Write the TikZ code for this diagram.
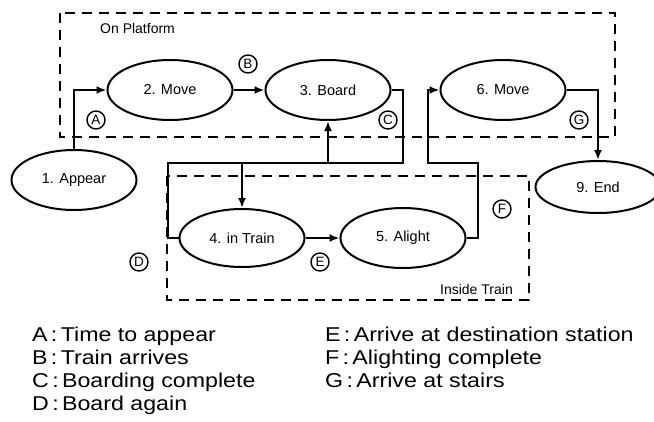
\documentclass[tikz,border=0pt]{standalone}
\usepackage{fontspec}
\setmainfont{Liberation Sans}
\newfontfamily\legendfont[FakeStretch=1.16]{Liberation Sans}
\usetikzlibrary{shapes.geometric,arrows.meta}

\begin{document}
\begin{tikzpicture}[x=1pt,y=-1pt,>={Latex[length=10pt,width=8pt]},
	state/.style={ellipse,draw,line width=2pt,minimum width=125pt,minimum height=60pt,inner sep=0pt,font=\fontsize{14.5}{17}\selectfont},
	lbl/.style={circle,draw,line width=1.4pt,minimum size=18pt,inner sep=0pt,font=\fontsize{13.5}{15}\selectfont},
	zone/.style={line width=2pt,dash pattern=on 10pt off 7pt},
	flow/.style={line width=2pt},
	key/.style={anchor=base west,inner sep=0pt,font=\legendfont\fontsize{20}{24}\selectfont}]
			\clip (0,0) rectangle (654,421);
			%\draw [help lines] (0,0) grid (654,421);
			\draw [zone] (60,13) rectangle (615,137);
			\draw [zone] (167,176) rectangle (529,300);
			\node [anchor=west,inner sep=0pt,font=\fontsize{14}{16}\selectfont] (plat) at (100,28) {On Platform};
			\node [anchor=east,inner sep=0pt,font=\fontsize{14}{16}\selectfont] (intr) at (513,289) {Inside Train};
			
			\node [state] (appear) at (74,180) {1. Appear};
			\node [state] (move1) at (170,90) {2. Move};
			\node [state] (board) at (328,90) {3. Board};
			\node [state,minimum height=58pt] (train) at (242,238) {4. in Train};
			\node [state] (alight) at (403,238) {5. Alight};
			\node [state] (move2) at (503,90) {6. Move};
			\node [state,minimum height=52pt] (end) at (598,187) {9. End};
			
			\coordinate (c1) at (403,163);
			\coordinate (c2) at (168,163);
			\coordinate (c3) at (478,163);
			\coordinate (c4) at (428,163);
			\draw [flow,->] (appear.north) |- (move1.west);
			\draw [flow,->] (move1.east) -- (board.west);
			\draw [flow] (board.east) -| (c1) -- (c2) |- (train.west);
			\draw [flow,->] (train.north |- c1) -- (train.north);
			\draw [flow,->] (board.south |- c1) -- (board.south);
			\draw [flow,->] (train.east) -- (alight.west);
			\draw [flow,->] (alight.east) -| (c3) -- (c4) |- (move2.west);
			\draw [flow,->] (move2.east) -| (end.north);
			
			\node [lbl] (ta) at (96,120) {A};
			\node [lbl] (tb) at (248,64) {B};
			\node [lbl] (tc) at (388,120) {C};
			\node [lbl] (td) at (139,262) {D};
			\node [lbl] (te) at (320,262) {E};
			\node [lbl] (tf) at (502,209) {F};
			\node [lbl] (tg) at (579,120) {G};
			
			\node [key] (ka) at (32,341) {A\,:\,Time to appear};
			\node [key] (kb) at (32,364) {B\,:\,Train arrives};
			\node [key] (kc) at (32,387) {C\,:\,Boarding complete};
			\node [key] (kd) at (32,410) {D\,:\,Board again};
			\node [key] (ke) at (325,341) {E\,:\,Arrive at destination station};
			\node [key] (kf) at (325,364) {F\,:\,Alighting complete};
			\node [key] (kg) at (325,387) {G\,:\,Arrive at stairs};
	\end{tikzpicture}
\end{document}
